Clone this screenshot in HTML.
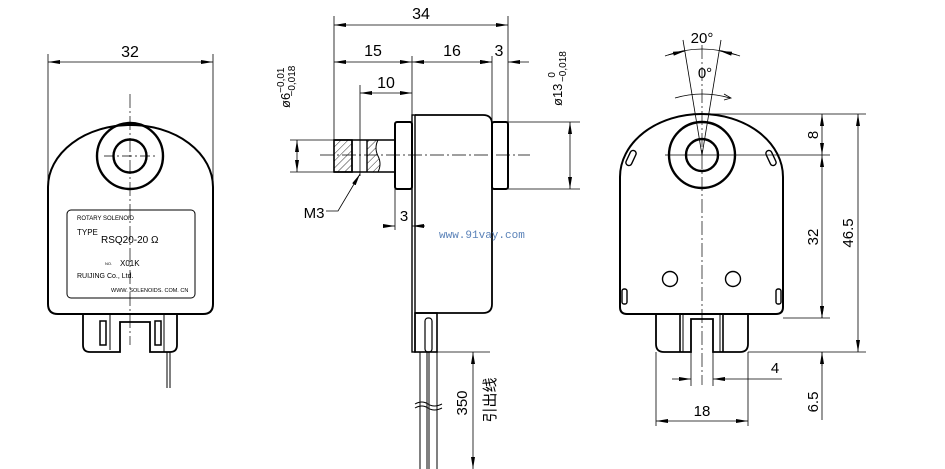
<!DOCTYPE html>
<html><head><meta charset="utf-8"><style>
html,body{margin:0;padding:0;background:#fff;}
svg{display:block;font-family:"Liberation Sans","Noto Sans CJK SC",sans-serif;}
</style></head><body>
<svg width="945" height="469" viewBox="0 0 945 469" xmlns="http://www.w3.org/2000/svg">
<defs>
<marker id="a" viewBox="0 0 12 4" refX="12" refY="2" markerWidth="12" markerHeight="4" markerUnits="userSpaceOnUse" orient="auto-start-reverse"><path d="M0,0 L12,2 L0,4 z" fill="#000"/></marker>
<pattern id="h" width="5" height="5" patternUnits="userSpaceOnUse" patternTransform="rotate(45)"><line x1="0" y1="0" x2="0" y2="5" stroke="#000" stroke-width="0.8"/></pattern>
</defs>
<g fill="none" stroke="#000">
<!-- LEFT VIEW -->
<path d="M48,187 A82.5,62 0 0 1 213,187 V304 Q213,314 203,314 H58 Q48,314 48,304 Z" stroke-width="2"/>
<circle cx="130" cy="156" r="33" stroke-width="2.4"/>
<circle cx="130" cy="156" r="16.5" stroke-width="2.4"/>
<rect x="67" y="210" width="128" height="88" rx="4" stroke-width="1"/>
<line x1="130" y1="94" x2="130" y2="345" stroke-width="0.7" stroke-dasharray="14,3,2,3"/>
<line x1="104" y1="156" x2="156" y2="156" stroke-width="0.7" stroke-dasharray="10,3,2,3"/>
<path d="M83,314 V345 Q83,352 90,352 H120 V322 H150 V352 H170 Q177,352 177,345 V314" stroke-width="1.8"/>
<rect x="100" y="321" width="6" height="24" stroke-width="1.5"/>
<rect x="155" y="321" width="6" height="24" stroke-width="1.5"/>
<line x1="110" y1="314" x2="110" y2="350" stroke-width="1"/>
<line x1="164" y1="314" x2="164" y2="352" stroke-width="1"/>
<line x1="167" y1="352" x2="167" y2="388" stroke-width="1"/>
<line x1="170" y1="352" x2="170" y2="388" stroke-width="1"/>
<line x1="48" y1="54" x2="48" y2="187" stroke-width="0.8"/>
<line x1="213" y1="54" x2="213" y2="187" stroke-width="0.8"/>
<line x1="48" y1="62" x2="213" y2="62" stroke-width="0.8" marker-start="url(#a)" marker-end="url(#a)"/>

<!-- MIDDLE VIEW -->
<line x1="334" y1="16" x2="334" y2="140" stroke-width="0.8"/>
<line x1="508" y1="16" x2="508" y2="122" stroke-width="0.8"/>
<line x1="412" y1="56" x2="412" y2="230" stroke-width="0.8"/>
<line x1="492" y1="56" x2="492" y2="122" stroke-width="0.8"/>
<line x1="360" y1="85" x2="360" y2="176" stroke-width="0.8"/>
<line x1="334" y1="25" x2="508" y2="25" stroke-width="0.8" marker-start="url(#a)" marker-end="url(#a)"/>
<line x1="334" y1="62" x2="412" y2="62" stroke-width="0.8" marker-start="url(#a)" marker-end="url(#a)"/>
<line x1="412" y1="62" x2="492" y2="62" stroke-width="0.8" marker-start="url(#a)" marker-end="url(#a)"/>
<line x1="480" y1="62" x2="492" y2="62" stroke-width="0.8" marker-end="url(#a)"/>
<line x1="529" y1="62" x2="508" y2="62" stroke-width="0.8" marker-end="url(#a)"/>
<line x1="360" y1="93" x2="412" y2="93" stroke-width="0.8" marker-start="url(#a)" marker-end="url(#a)"/>
<!-- shaft -->
<rect x="334" y="140" width="18" height="32" fill="url(#h)" stroke-width="1.6"/>
<path d="M367,140 H378 Q374,148 378,156 Q382,164 378,172 H367 Z" fill="url(#h)" stroke-width="1"/>
<line x1="334" y1="140" x2="395" y2="140" stroke-width="1.6"/>
<line x1="334" y1="172" x2="395" y2="172" stroke-width="1.6"/>
<line x1="352" y1="140" x2="352" y2="172" stroke-width="1.4"/>
<line x1="367" y1="140" x2="367" y2="172" stroke-width="1.4"/>
<rect x="395" y="122" width="17" height="67" rx="2" stroke-width="2"/>
<rect x="412" y="115" width="3" height="237" stroke-width="1.4"/>
<path d="M415,115 H483 Q492,115 492,124 V304 Q492,313 483,313 H415" stroke-width="1.8"/>
<rect x="492" y="122" width="16" height="67" rx="2" stroke-width="2"/>
<line x1="320" y1="155" x2="530" y2="155" stroke-width="0.7" stroke-dasharray="14,3,2,3"/>
<!-- phi6 -->
<line x1="290" y1="140" x2="334" y2="140" stroke-width="0.8"/>
<line x1="290" y1="172" x2="334" y2="172" stroke-width="0.8"/>
<line x1="297" y1="140" x2="297" y2="172" stroke-width="0.8" marker-start="url(#a)" marker-end="url(#a)"/>
<!-- phi13 -->
<line x1="508" y1="122" x2="580" y2="122" stroke-width="0.8"/>
<line x1="508" y1="189" x2="580" y2="189" stroke-width="0.8"/>
<line x1="570" y1="122" x2="570" y2="189" stroke-width="0.8" marker-start="url(#a)" marker-end="url(#a)"/>
<!-- M3 leader -->
<path d="M326,211 H338 L360,174" stroke-width="0.8" marker-end="url(#a)"/>
<!-- 3 bottom -->
<line x1="395" y1="189" x2="395" y2="230" stroke-width="0.8"/>
<line x1="383" y1="226" x2="395" y2="226" stroke-width="0.8" marker-end="url(#a)"/>
<line x1="425" y1="226" x2="412" y2="226" stroke-width="0.8" marker-end="url(#a)"/>
<!-- wire block -->
<rect x="415" y="313" width="22" height="39" stroke-width="1.6"/>
<rect x="425" y="318" width="7" height="34" rx="3" stroke-width="1.2"/>
<line x1="420" y1="352" x2="420" y2="469" stroke-width="1"/>
<line x1="427" y1="352" x2="427" y2="469" stroke-width="1"/>
<line x1="429" y1="352" x2="429" y2="469" stroke-width="1"/>
<line x1="437" y1="352" x2="437" y2="469" stroke-width="1"/>
<path d="M415,404 Q422,400 428,404 Q434,408 442,404" stroke-width="1"/>
<path d="M415,408 Q422,404 428,408 Q434,412 442,408" stroke-width="1"/>
<line x1="437" y1="352" x2="490" y2="352" stroke-width="0.8"/>
<line x1="473" y1="352" x2="473" y2="469" stroke-width="0.8" marker-start="url(#a)" marker-end="url(#a)"/>

<!-- RIGHT VIEW -->
<path d="M620,177 A81.5,63 0 0 1 783,177 V307 Q783,314 776,314 H627 Q620,314 620,307 Z" stroke-width="2"/>
<circle cx="702" cy="155" r="33" stroke-width="2.4"/>
<circle cx="702" cy="155" r="16" stroke-width="2.4"/>
<rect x="628" y="150" width="6" height="16" rx="3" transform="rotate(25 631 158)" stroke-width="1.4"/>
<rect x="768" y="150" width="6" height="16" rx="3" transform="rotate(-25 771 158)" stroke-width="1.4"/>
<rect x="622" y="289" width="5" height="15" rx="2" stroke-width="1.4"/>
<rect x="776" y="289" width="5" height="15" rx="2" stroke-width="1.4"/>
<circle cx="670" cy="279" r="7.5" stroke-width="1.4"/>
<circle cx="733" cy="279" r="7.5" stroke-width="1.4"/>
<path d="M656,314 V344 Q656,352 664,352 H691 V319 H713 V352 H740 Q748,352 748,344 V314" stroke-width="1.8"/>
<line x1="680" y1="314" x2="680" y2="352" stroke-width="1.6"/>
<line x1="683" y1="314" x2="683" y2="352" stroke-width="1"/>
<line x1="720" y1="314" x2="720" y2="352" stroke-width="1"/>
<line x1="723" y1="314" x2="723" y2="352" stroke-width="1.6"/>
<line x1="702" y1="45" x2="702" y2="385" stroke-width="0.7" stroke-dasharray="14,3,2,3"/>
<line x1="665" y1="155" x2="830" y2="155" stroke-width="0.8"/>
<line x1="702" y1="155" x2="683" y2="40" stroke-width="0.8"/>
<line x1="702" y1="155" x2="721" y2="40" stroke-width="0.8"/>
<path d="M665,56 Q702,42 740,56" stroke-width="0.8"/>
<line x1="668" y1="55" x2="685" y2="51" stroke-width="0.8" marker-end="url(#a)"/>
<line x1="737" y1="55" x2="720" y2="51" stroke-width="0.8" marker-end="url(#a)"/>
<path d="M675,98 Q702,90 730,98" stroke-width="0.8"/>
<path d="M724,94 L731,98 L724,100" stroke-width="0.8"/>
<!-- right dims -->
<line x1="705" y1="114" x2="866" y2="114" stroke-width="0.8"/>
<line x1="783" y1="318" x2="830" y2="318" stroke-width="0.8"/>
<line x1="748" y1="352" x2="866" y2="352" stroke-width="0.8"/>
<line x1="822" y1="114" x2="822" y2="155" stroke-width="0.8" marker-start="url(#a)" marker-end="url(#a)"/>
<line x1="822" y1="155" x2="822" y2="318" stroke-width="0.8" marker-start="url(#a)" marker-end="url(#a)"/>
<line x1="822" y1="306" x2="822" y2="318" stroke-width="0.8" marker-end="url(#a)"/>
<line x1="822" y1="366" x2="822" y2="352" stroke-width="0.8" marker-end="url(#a)"/>
<line x1="822" y1="352" x2="822" y2="420" stroke-width="0.8"/>
<line x1="858" y1="114" x2="858" y2="352" stroke-width="0.8" marker-start="url(#a)" marker-end="url(#a)"/>
<line x1="656" y1="352" x2="656" y2="426" stroke-width="0.8"/>
<line x1="748" y1="352" x2="748" y2="426" stroke-width="0.8"/>
<line x1="656" y1="421" x2="748" y2="421" stroke-width="0.8" marker-start="url(#a)" marker-end="url(#a)"/>
<line x1="691" y1="352" x2="691" y2="386" stroke-width="0.8"/>
<line x1="713" y1="352" x2="713" y2="386" stroke-width="0.8"/>
<line x1="672" y1="379" x2="691" y2="379" stroke-width="0.8" marker-end="url(#a)"/>
<line x1="782" y1="379" x2="713" y2="379" stroke-width="0.8" marker-end="url(#a)"/>
</g>
<g fill="#000" font-size="16" text-anchor="middle">
<text x="130" y="57">32</text>
<text x="421" y="19">34</text>
<text x="373" y="56">15</text>
<text x="452" y="56">16</text>
<text x="499" y="56">3</text>
<text x="386" y="88">10</text>
<text x="404" y="221" font-size="15">3</text>
<text x="314" y="218" font-size="15">M3</text>
<text x="702" y="43" font-size="15">20°</text>
<text x="705" y="78" font-size="15">0°</text>
<text x="702" y="416" font-size="15">18</text>
<text x="775" y="373" font-size="15">4</text>
<text transform="translate(818,135) rotate(-90)" font-size="15">8</text>
<text transform="translate(818,237) rotate(-90)" font-size="15">32</text>
<text transform="translate(818,402) rotate(-90)" font-size="15">6.5</text>
<text transform="translate(853,233) rotate(-90)" font-size="15">46.5</text>
<text transform="translate(467,403) rotate(-90)" font-size="15">350</text>
<text transform="translate(495,400) rotate(-90)" font-size="15">引出线</text>
<text transform="translate(290,108) rotate(-90)" font-size="13" text-anchor="start">ø6<tspan font-size="10" dy="-6">−0,01</tspan><tspan font-size="10" dx="-29" dy="11">−0,018</tspan></text>
<text transform="translate(562,106) rotate(-90)" font-size="13" text-anchor="start">ø13<tspan font-size="10" dx="6" dy="-7">0</tspan><tspan font-size="10" dx="-10" dy="11">−0,018</tspan></text>
</g>
<g fill="#000" text-anchor="start">
<text x="77" y="220" font-size="6">ROTARY SOLENOID</text>
<text x="77" y="235" font-size="8">TYPE</text>
<text x="101" y="243" font-size="10">RSQ20-20 Ω</text>
<text x="105" y="265" font-size="4">NO.</text>
<text x="120" y="266" font-size="8">X01K</text>
<text x="77" y="278" font-size="7">RUIJING Co., Ltd.</text>
<text x="111" y="292" font-size="5.5">WWW. SOLENOIDS. COM. CN</text>
</g>
<text x="439" y="238" font-size="11" fill="#5a82b8" font-family="Liberation Mono, monospace">www.91vay.com</text>
</svg>
</body></html>
